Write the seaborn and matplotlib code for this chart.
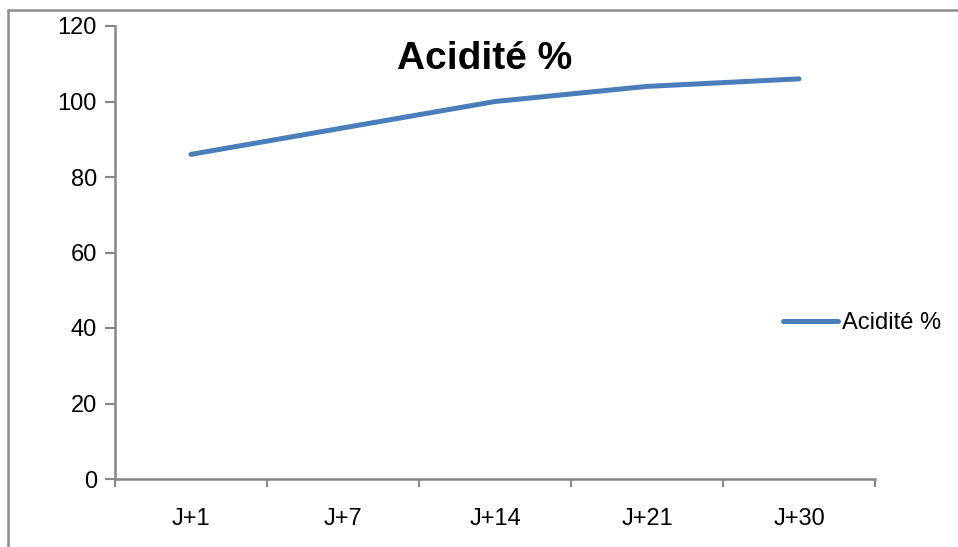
import matplotlib
matplotlib.use("Agg")
import matplotlib.pyplot as plt
from matplotlib.lines import Line2D
import seaborn as sns
import pandas as pd

# Data
days = ["J+1", "J+7", "J+14", "J+21", "J+30"]
acidite = [86, 93, 100, 104, 106]
series_name = "Acidité %"
y_ticks = [0, 20, 40, 60, 80, 100, 120]

sns.set_theme(style="white")
plt.rcParams["font.family"] = ["Liberation Sans", "DejaVu Sans"]
plt.rcParams["text.color"] = "black"

df = pd.DataFrame({"jour": days, "valeur": acidite, "serie": series_name})

fig = plt.figure(figsize=(9.58, 5.47), dpi=100)
ax = fig.add_axes([115 / 958, 1 - 479 / 547, 760 / 958, 453 / 547])

line_color = "#4A7EBB"
axis_color = "#868686"

sns.lineplot(data=df, x="jour", y="valeur", ax=ax, color=line_color,
             linewidth=3.6, solid_capstyle="round", sort=False, legend=False)

ax.set_xlim(-0.5, len(days) - 0.5)
ax.set_ylim(0, 120)
ax.set_yticks(y_ticks)
ax.set_yticklabels([str(v) for v in y_ticks], fontsize=17, color="black")

# category boundaries carry the tick marks, labels sit between them
ax.set_xticks([i - 0.5 for i in range(len(days) + 1)])
ax.set_xticklabels([""] * (len(days) + 1))
ax.set_xticks(range(len(days)), minor=True)
ax.set_xticklabels(days, minor=True, fontsize=17, color="black")
ax.tick_params(axis="x", which="major", direction="out", length=6, width=1.5,
               color=axis_color, bottom=True)
ax.tick_params(axis="x", which="minor", length=0, pad=21)
ax.tick_params(axis="y", direction="out", length=7, width=1.5, color=axis_color,
               left=True, pad=6)

ax.set_xlabel("")
ax.set_ylabel("")
for side in ["top", "right"]:
    ax.spines[side].set_visible(False)
for side in ["left", "bottom"]:
    ax.spines[side].set_color(axis_color)
    ax.spines[side].set_linewidth(1.8)
ax.grid(False)

fig.text(485 / 958, 1 - 69 / 547, series_name, ha="center", va="baseline",
         fontsize=28, fontweight="bold", color="black")

handle = Line2D([], [], color=line_color, linewidth=3.6, solid_capstyle="round")
ax.legend([handle], [series_name], loc="center left",
          bbox_to_anchor=(783 / 958, 1 - 323 / 547), bbox_transform=fig.transFigure,
          frameon=False, fontsize=17, handlelength=2.35, handletextpad=0.15,
          borderpad=0, borderaxespad=0, labelcolor="black")

# chart area border
fig.add_artist(Line2D([8 / 958, 8 / 958], [0, 1 - 10 / 547], transform=fig.transFigure,
                      color="#8C8C8C", linewidth=1.8))
fig.add_artist(Line2D([8 / 958, 1], [1 - 10 / 547, 1 - 10 / 547], transform=fig.transFigure,
                      color="#8C8C8C", linewidth=1.8))

fig.savefig("out.png", dpi=100, facecolor="white")
